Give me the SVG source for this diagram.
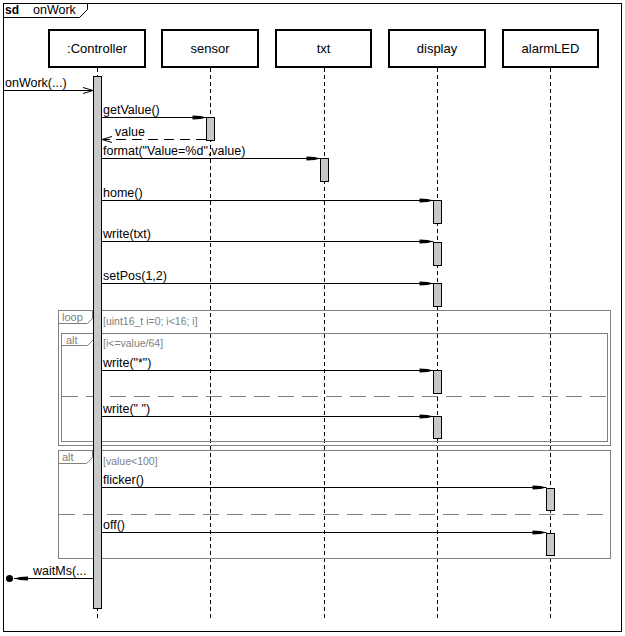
<svg xmlns="http://www.w3.org/2000/svg" width="625" height="636" viewBox="0 0 625 636">
<style>
text{font-family:"Liberation Sans",Arial,sans-serif;fill:#000}
.lbl{font-size:12.5px}
.name{font-size:13px;text-anchor:middle}
.guard{font-size:10.5px;fill:#808080}
.tab{font-size:11px;fill:#808080}
.box{fill:#fff;stroke:#000;stroke-width:2}
.life{stroke:#000;stroke-width:1;stroke-dasharray:4,3;fill:none}
.act{fill:#c8c8c8;stroke:#000;stroke-width:1}
.msg{stroke:#000;stroke-width:1;fill:none}
.ret{stroke:#000;stroke-width:1;fill:none;stroke-dasharray:10,6}
.frag{fill:none;stroke:#808080;stroke-width:1}
.sep{stroke:#808080;stroke-width:1;stroke-dasharray:16,8;fill:none}
</style>
<defs>
<marker id="filled" markerUnits="userSpaceOnUse" markerWidth="16" markerHeight="6" refX="15" refY="3" orient="auto" viewBox="0 0 16 6">
<path d="M15,3 L9,1.4 L1,1 L1,5 L9,4.6 Z" fill="#000"/>
</marker>
<marker id="open" markerUnits="userSpaceOnUse" markerWidth="12" markerHeight="10" refX="11" refY="5" orient="auto" viewBox="0 0 12 10">
<path d="M1,2 L11,5 L1,8" fill="none" stroke="#000" stroke-width="1"/>
</marker>
</defs>
<rect x="0" y="0" width="625" height="636" fill="#fff"/>
<g id="frame">
<rect x="3.5" y="3.5" width="618" height="628" fill="none" stroke="#000" stroke-width="1"/>
<polyline points="3.5,17.5 79.5,17.5 87.5,9.5 87.5,3.5" fill="none" stroke="#000" stroke-width="1"/>
<text x="5" y="14" style="font-size:12px;font-weight:bold">sd</text>
<text x="33" y="14" class="lbl">onWork</text>
</g>
<g id="lifelines">
<line class="life" x1="97.5" y1="68" x2="97.5" y2="618"/>
<line class="life" x1="210.5" y1="68" x2="210.5" y2="618"/>
<line class="life" x1="324.5" y1="68" x2="324.5" y2="618"/>
<line class="life" x1="437.5" y1="68" x2="437.5" y2="618"/>
<line class="life" x1="550.5" y1="68" x2="550.5" y2="618"/>
</g>
<g id="controller">
<rect class="box" x="49" y="30" width="96" height="37"/>
<text class="name" x="97" y="53">:Controller</text>
</g>
<g id="sensor">
<rect class="box" x="162" y="30" width="96" height="37"/>
<text class="name" x="210" y="53">sensor</text>
</g>
<g id="txt">
<rect class="box" x="276" y="30" width="95" height="37"/>
<text class="name" x="323.5" y="53">txt</text>
</g>
<g id="display">
<rect class="box" x="389" y="30" width="96" height="37"/>
<text class="name" x="437" y="53">display</text>
</g>
<g id="alarmLED">
<rect class="box" x="503" y="30" width="95" height="37"/>
<text class="name" x="550.5" y="53">alarmLED</text>
</g>
<g id="fragments">
<g id="loop">
<rect class="frag" x="58.5" y="310.5" width="552" height="135"/>
<polyline class="frag" points="58.5,323.5 87.5,323.5 92.5,318.5 92.5,310.5"/>
<text class="tab" x="62" y="321">loop</text>
<text class="guard" x="103" y="325">[uint16_t i=0; i&lt;16; i]</text>
</g>
<g id="alt1">
<rect class="frag" x="61.5" y="333.5" width="546" height="108"/>
<polyline class="frag" points="61.5,345.5 87.5,345.5 93.5,339.5 93.5,333.5"/>
<text class="tab" x="66" y="344">alt</text>
<text class="guard" x="103" y="347">[i&lt;=value/64]</text>
<line class="sep" x1="62" y1="396.5" x2="607" y2="396.5"/>
</g>
<g id="alt2">
<rect class="frag" x="58.5" y="450.5" width="552" height="108"/>
<polyline class="frag" points="58.5,463.5 86.5,463.5 92.5,457.5 92.5,450.5"/>
<text class="tab" x="62" y="461">alt</text>
<text class="guard" x="103" y="465">[value&lt;100]</text>
<line class="sep" x1="59" y1="514.5" x2="610" y2="514.5"/>
</g>
</g>
<g id="activations">
<rect class="act" x="93.5" y="76.5" width="8" height="532"/>
<rect class="act" x="206.5" y="117.5" width="8" height="23"/>
<rect class="act" x="320.5" y="158.5" width="8" height="23"/>
<rect class="act" x="433.5" y="200.5" width="8" height="23"/>
<rect class="act" x="433.5" y="242.5" width="8" height="23"/>
<rect class="act" x="433.5" y="283.5" width="8" height="23"/>
<rect class="act" x="433.5" y="370.5" width="8" height="23"/>
<rect class="act" x="433.5" y="416.5" width="8" height="22"/>
<rect class="act" x="546.5" y="488.5" width="8" height="22"/>
<rect class="act" x="546.5" y="533.5" width="8" height="22"/>
</g>
<g id="connectors">
<line class="msg" x1="3.5" y1="90.5" x2="93" y2="90.5" marker-end="url(#open)"/>
<text class="lbl" x="5" y="87">onWork(...)</text>
<line class="msg" x1="101.5" y1="117.5" x2="206.5" y2="117.5" marker-end="url(#filled)"/>
<text class="lbl" x="103" y="114">getValue()</text>
<line class="ret" x1="206" y1="139.5" x2="102" y2="139.5" marker-end="url(#open)"/>
<text class="lbl" x="115" y="136">value</text>
<line class="msg" x1="101.5" y1="158.5" x2="320.5" y2="158.5" marker-end="url(#filled)"/>
<text class="lbl" x="103" y="155">format("Value=%d",value)</text>
<line class="msg" x1="101.5" y1="200.5" x2="433.5" y2="200.5" marker-end="url(#filled)"/>
<text class="lbl" x="103" y="197">home()</text>
<line class="msg" x1="101.5" y1="241.5" x2="433.5" y2="241.5" marker-end="url(#filled)"/>
<text class="lbl" x="103" y="238">write(txt)</text>
<line class="msg" x1="101.5" y1="283.5" x2="433.5" y2="283.5" marker-end="url(#filled)"/>
<text class="lbl" x="103" y="280">setPos(1,2)</text>
<line class="msg" x1="101.5" y1="370.5" x2="433.5" y2="370.5" marker-end="url(#filled)"/>
<text class="lbl" x="103" y="367">write("*")</text>
<line class="msg" x1="101.5" y1="416.5" x2="433.5" y2="416.5" marker-end="url(#filled)"/>
<text class="lbl" x="103" y="413">write(" ")</text>
<line class="msg" x1="101.5" y1="487.5" x2="546.5" y2="487.5" marker-end="url(#filled)"/>
<text class="lbl" x="103" y="484">flicker()</text>
<line class="msg" x1="101.5" y1="532.5" x2="546.5" y2="532.5" marker-end="url(#filled)"/>
<text class="lbl" x="103" y="529">off()</text>
<line class="msg" x1="93.5" y1="578.5" x2="14" y2="578.5" marker-end="url(#filled)"/>
<circle cx="9.5" cy="578.5" r="3.5" fill="#000"/>
<text class="lbl" x="33" y="575">waitMs(...</text>
</g>
</svg>
